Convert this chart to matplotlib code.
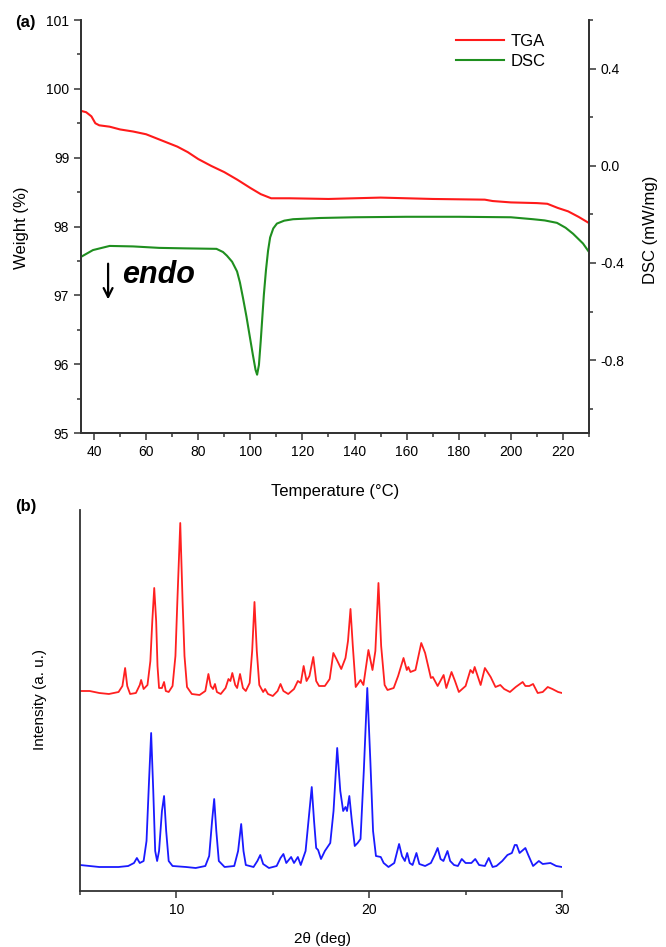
import matplotlib
matplotlib.use('Agg')
import matplotlib.pyplot as plt
from matplotlib.ticker import MultipleLocator, FixedLocator

plt.rcParams['font.family'] = ['Liberation Sans', 'DejaVu Sans']

# (a) TGA / DSC
tga_temp = [35, 37, 39, 40.5, 42, 46, 50, 55, 60, 64, 68, 72, 76, 80, 85, 90, 95,
            100, 104, 108, 115, 130, 150, 170, 190, 193, 200, 210, 214, 218, 222, 226, 230]
tga_weight = [99.68, 99.66, 99.6, 99.5, 99.47, 99.45, 99.41, 99.38, 99.34, 99.28, 99.22,
              99.16, 99.08, 98.98, 98.88, 98.79, 98.68, 98.56, 98.47, 98.41, 98.41, 98.4,
              98.42, 98.4, 98.39, 98.37, 98.35, 98.34, 98.33, 98.27, 98.22, 98.14, 98.05]

dsc_temp = [35, 39.6, 46, 55, 65, 75, 87, 89.5, 91, 93, 94.9, 96, 97.2, 98.5, 99.9, 101,
            102, 102.6, 103.3, 104, 104.5, 105.2, 106, 106.8, 107.6, 108.8, 110.2, 113,
            116.4, 126.7, 140, 160, 180, 200, 208.5, 213, 217.7, 221, 223.9, 227.7, 230]
dsc_value = [-0.375, -0.347, -0.33, -0.332, -0.338, -0.34, -0.342, -0.355, -0.37, -0.395,
             -0.435, -0.48, -0.545, -0.62, -0.71, -0.78, -0.84, -0.86, -0.82, -0.72, -0.64,
             -0.53, -0.43, -0.35, -0.295, -0.258, -0.238, -0.226, -0.22, -0.215, -0.212,
             -0.21, -0.21, -0.212, -0.22, -0.225, -0.235, -0.255, -0.28, -0.32, -0.355]

# (b) XRD patterns, 2theta (deg) and intensity (a.u.)
red_2theta = [5.0, 5.5, 6.0, 6.5, 7.0, 7.2, 7.34, 7.45, 7.6, 7.9, 8.1, 8.17, 8.3, 8.5, 8.65,
              8.75, 8.85, 8.95, 9.02, 9.1, 9.25, 9.36, 9.45, 9.6, 9.8, 9.95, 10.05, 10.2, 10.32,
              10.42, 10.55, 10.8, 11.2, 11.5, 11.66, 11.78, 11.9, 12.0, 12.1, 12.3, 12.55,
              12.7, 12.8, 12.9, 13.05, 13.15, 13.3, 13.45, 13.6, 13.8, 13.93, 14.05, 14.17,
              14.3, 14.5, 14.6, 14.75, 15.0, 15.25, 15.4, 15.55, 15.8, 16.1, 16.3, 16.45,
              16.6, 16.75, 16.9, 17.1, 17.25, 17.4, 17.7, 17.95, 18.14, 18.3, 18.4, 18.55,
              18.77, 18.9, 19.03, 19.15, 19.3, 19.55, 19.7, 19.96, 20.17, 20.32, 20.48, 20.62,
              20.8, 20.95, 21.27, 21.5, 21.78, 21.95, 22.03, 22.14, 22.4, 22.7, 22.9, 23.2,
              23.3, 23.55, 23.86, 24.0, 24.27, 24.45, 24.65, 25.0, 25.25, 25.38, 25.47,
              25.78, 26.0, 26.3, 26.55, 26.8, 27.0, 27.3, 27.6, 27.96, 28.1, 28.3, 28.5,
              28.74, 29.0, 29.26, 29.5, 29.8, 30.0]
red_int = [200, 200, 198, 197, 199, 205, 223, 205, 197, 198, 206, 211, 202, 206, 230,
           270, 303, 270, 225, 203, 203, 209, 200, 199, 205, 235, 290, 368, 290,
           235, 204, 197, 196, 200, 217, 205, 202, 207, 199, 197, 203,
           212, 210, 218, 206, 203, 217, 203, 200, 208, 240, 289, 240,
           206, 199, 202, 197, 195, 200, 207, 200, 197, 202, 210, 208,
           225, 210, 215, 234, 210, 205, 205, 212, 238, 232, 228, 222,
           233, 250, 282, 245, 204, 211, 206, 241, 221, 240, 308, 245,
           206, 201, 203, 215, 233, 221, 224, 219, 221, 248, 238, 213,
           214, 205, 216, 203, 219, 210, 199, 205, 221, 218, 224,
           206, 223, 214, 204, 206, 202, 199, 204, 209, 205, 205, 207,
           198, 199, 204, 202, 199, 198]

blue_2theta = [5.0, 5.5, 6.0, 6.5, 7.0, 7.5, 7.8, 7.95, 8.1, 8.3, 8.45, 8.58, 8.69, 8.8,
               8.9, 9.0, 9.1, 9.25, 9.36, 9.47, 9.6, 9.8, 10.5, 11.0, 11.5, 11.7, 11.85,
               11.96, 12.07, 12.2, 12.5, 13.0, 13.2, 13.36, 13.48, 13.6, 14.0, 14.2, 14.35,
               14.5, 14.8, 15.2, 15.4, 15.55, 15.7, 15.95, 16.1, 16.3, 16.45, 16.7, 16.9,
               17.02, 17.14, 17.25, 17.35, 17.5, 17.7, 17.98, 18.15, 18.34, 18.5, 18.65,
               18.77, 18.85, 18.97, 19.1, 19.25, 19.4, 19.55, 19.72, 19.9, 20.06, 20.2,
               20.35, 20.6, 20.75, 21.0, 21.3, 21.55, 21.7, 21.85, 21.97, 22.1, 22.25,
               22.45, 22.6, 22.9, 23.2, 23.4, 23.55, 23.7, 23.85, 24.06, 24.2, 24.4, 24.6,
               24.8, 25.0, 25.3, 25.5, 25.7, 26.0, 26.2, 26.4, 26.6, 26.9, 27.17, 27.4,
               27.55, 27.65, 27.8, 28.1, 28.25, 28.5, 28.8, 29.0, 29.4, 29.7, 30.0]
blue_int = [26, 25, 24, 24, 24, 25, 28, 33, 28, 30, 50, 110, 158, 100,
            40, 30, 40, 80, 95, 60, 30, 25, 24, 23, 25, 35, 70,
            92, 60, 30, 24, 25, 40, 67, 40, 26, 24, 30, 36,
            27, 23, 25, 33, 37, 28, 34, 28, 34, 26, 40, 80,
            104, 70, 43, 41, 32, 40, 48, 80, 143, 100, 80,
            84, 80, 95, 70, 45, 48, 52, 120, 203, 130, 60,
            35, 34, 28, 24, 28, 47, 35, 30, 38, 28, 26,
            38, 27, 25, 28, 36, 43, 32, 30, 40, 30, 26, 25,
            32, 28, 28, 32, 26, 25, 33, 24, 25, 30, 36, 38,
            46, 46, 38, 43, 36, 25, 30, 27, 28, 25, 24]

fig = plt.figure(figsize=(6.66, 9.47), dpi=100)
spine_col = '#333333'

# ---------- panel (a) ----------
ax = fig.add_axes([81/666, 1 - 433/947, 508/666, 413/947])
ax2 = ax.twinx()
l1, = ax.plot(tga_temp, tga_weight, color='#ff1a1a', lw=1.5, label='TGA')
l2, = ax2.plot(dsc_temp, dsc_value, color='#1f8f1f', lw=1.5, label='DSC')

ax.set_xlim(35, 230)
ax.set_ylim(95, 101)
ax2.set_ylim(-1.1, 0.6)
ax.xaxis.set_major_locator(MultipleLocator(20))
ax.xaxis.set_minor_locator(FixedLocator(list(range(50, 231, 20))))
ax.yaxis.set_major_locator(MultipleLocator(1))
ax.yaxis.set_minor_locator(MultipleLocator(0.5))
ax2.yaxis.set_major_locator(FixedLocator([-0.8, -0.4, 0.0, 0.4]))
ax2.yaxis.set_minor_locator(FixedLocator([-1.0, -0.6, -0.2, 0.2, 0.6]))
ax2.set_yticklabels(['-0.8', '-0.4', '0.0', '0.4'])

for a in (ax, ax2):
    a.spines['top'].set_visible(False)
    for s in ('left', 'right', 'bottom'):
        a.spines[s].set_color(spine_col)
        a.spines[s].set_linewidth(1.3)
    a.tick_params(which='major', length=5, width=1.1, color=spine_col, labelsize=10)
    a.tick_params(which='minor', length=3, width=1.1, color=spine_col)

ax.legend(handles=[l1, l2], loc='upper left', bbox_to_anchor=(456/666, 1 - 34/947),
          bbox_transform=fig.transFigure, frameon=False, fontsize=12,
          handlelength=2.9, handletextpad=0.4, labelspacing=0.3,
          borderpad=0, borderaxespad=0)

ax.annotate('', xy=(45.4, 96.9), xytext=(45.4, 97.5),
            arrowprops=dict(arrowstyle='->', color='black', lw=1.6, mutation_scale=16))
fig.text(122/666, 1 - 283/947, 'endo', fontsize=22, fontweight='bold', style='italic',
         va='baseline', ha='left')

fig.text(15/666, 1 - 23/947, '(a)', fontsize=12, fontweight='bold', va='center')
fig.text(22/666, 1 - 228/947, 'Weight (%)', fontsize=12, rotation=90, va='center', ha='center')
fig.text(651/666, 1 - 230/947, 'DSC (mW/mg)', fontsize=12, rotation=90, va='center', ha='center')
fig.text(335/666, 1 - 491/947, 'Temperature (°C)', fontsize=12, va='center', ha='center')

# ---------- panel (b) ----------
bx = fig.add_axes([80/666, 1 - 891/947, 482/666, 381/947])
bx.plot(red_2theta, red_int, color='#ff2020', lw=1.3)
bx.plot(blue_2theta, blue_int, color='#1a1aff', lw=1.3)
bx.set_xlim(5, 30)
bx.set_ylim(0, 381)
bx.xaxis.set_major_locator(FixedLocator([10, 20, 30]))
bx.xaxis.set_minor_locator(FixedLocator([5, 15, 25]))
bx.set_yticks([])
bx.spines['top'].set_visible(False)
bx.spines['right'].set_visible(False)
for s in ('left', 'bottom'):
    bx.spines[s].set_color(spine_col)
    bx.spines[s].set_linewidth(1.3)
bx.tick_params(which='major', length=5, width=1.1, color=spine_col, labelsize=10)
bx.tick_params(which='minor', length=3, width=1.1, color=spine_col)

fig.text(15/666, 1 - 507/947, '(b)', fontsize=12, fontweight='bold', va='center')
fig.text(40/666, 1 - 700/947, 'Intensity (a. u.)', fontsize=11, rotation=90, va='center', ha='center')
fig.text(322/666, 1 - 939/947, '2θ (deg)', fontsize=11, va='center', ha='center')

fig.savefig('out.png', dpi=100)
